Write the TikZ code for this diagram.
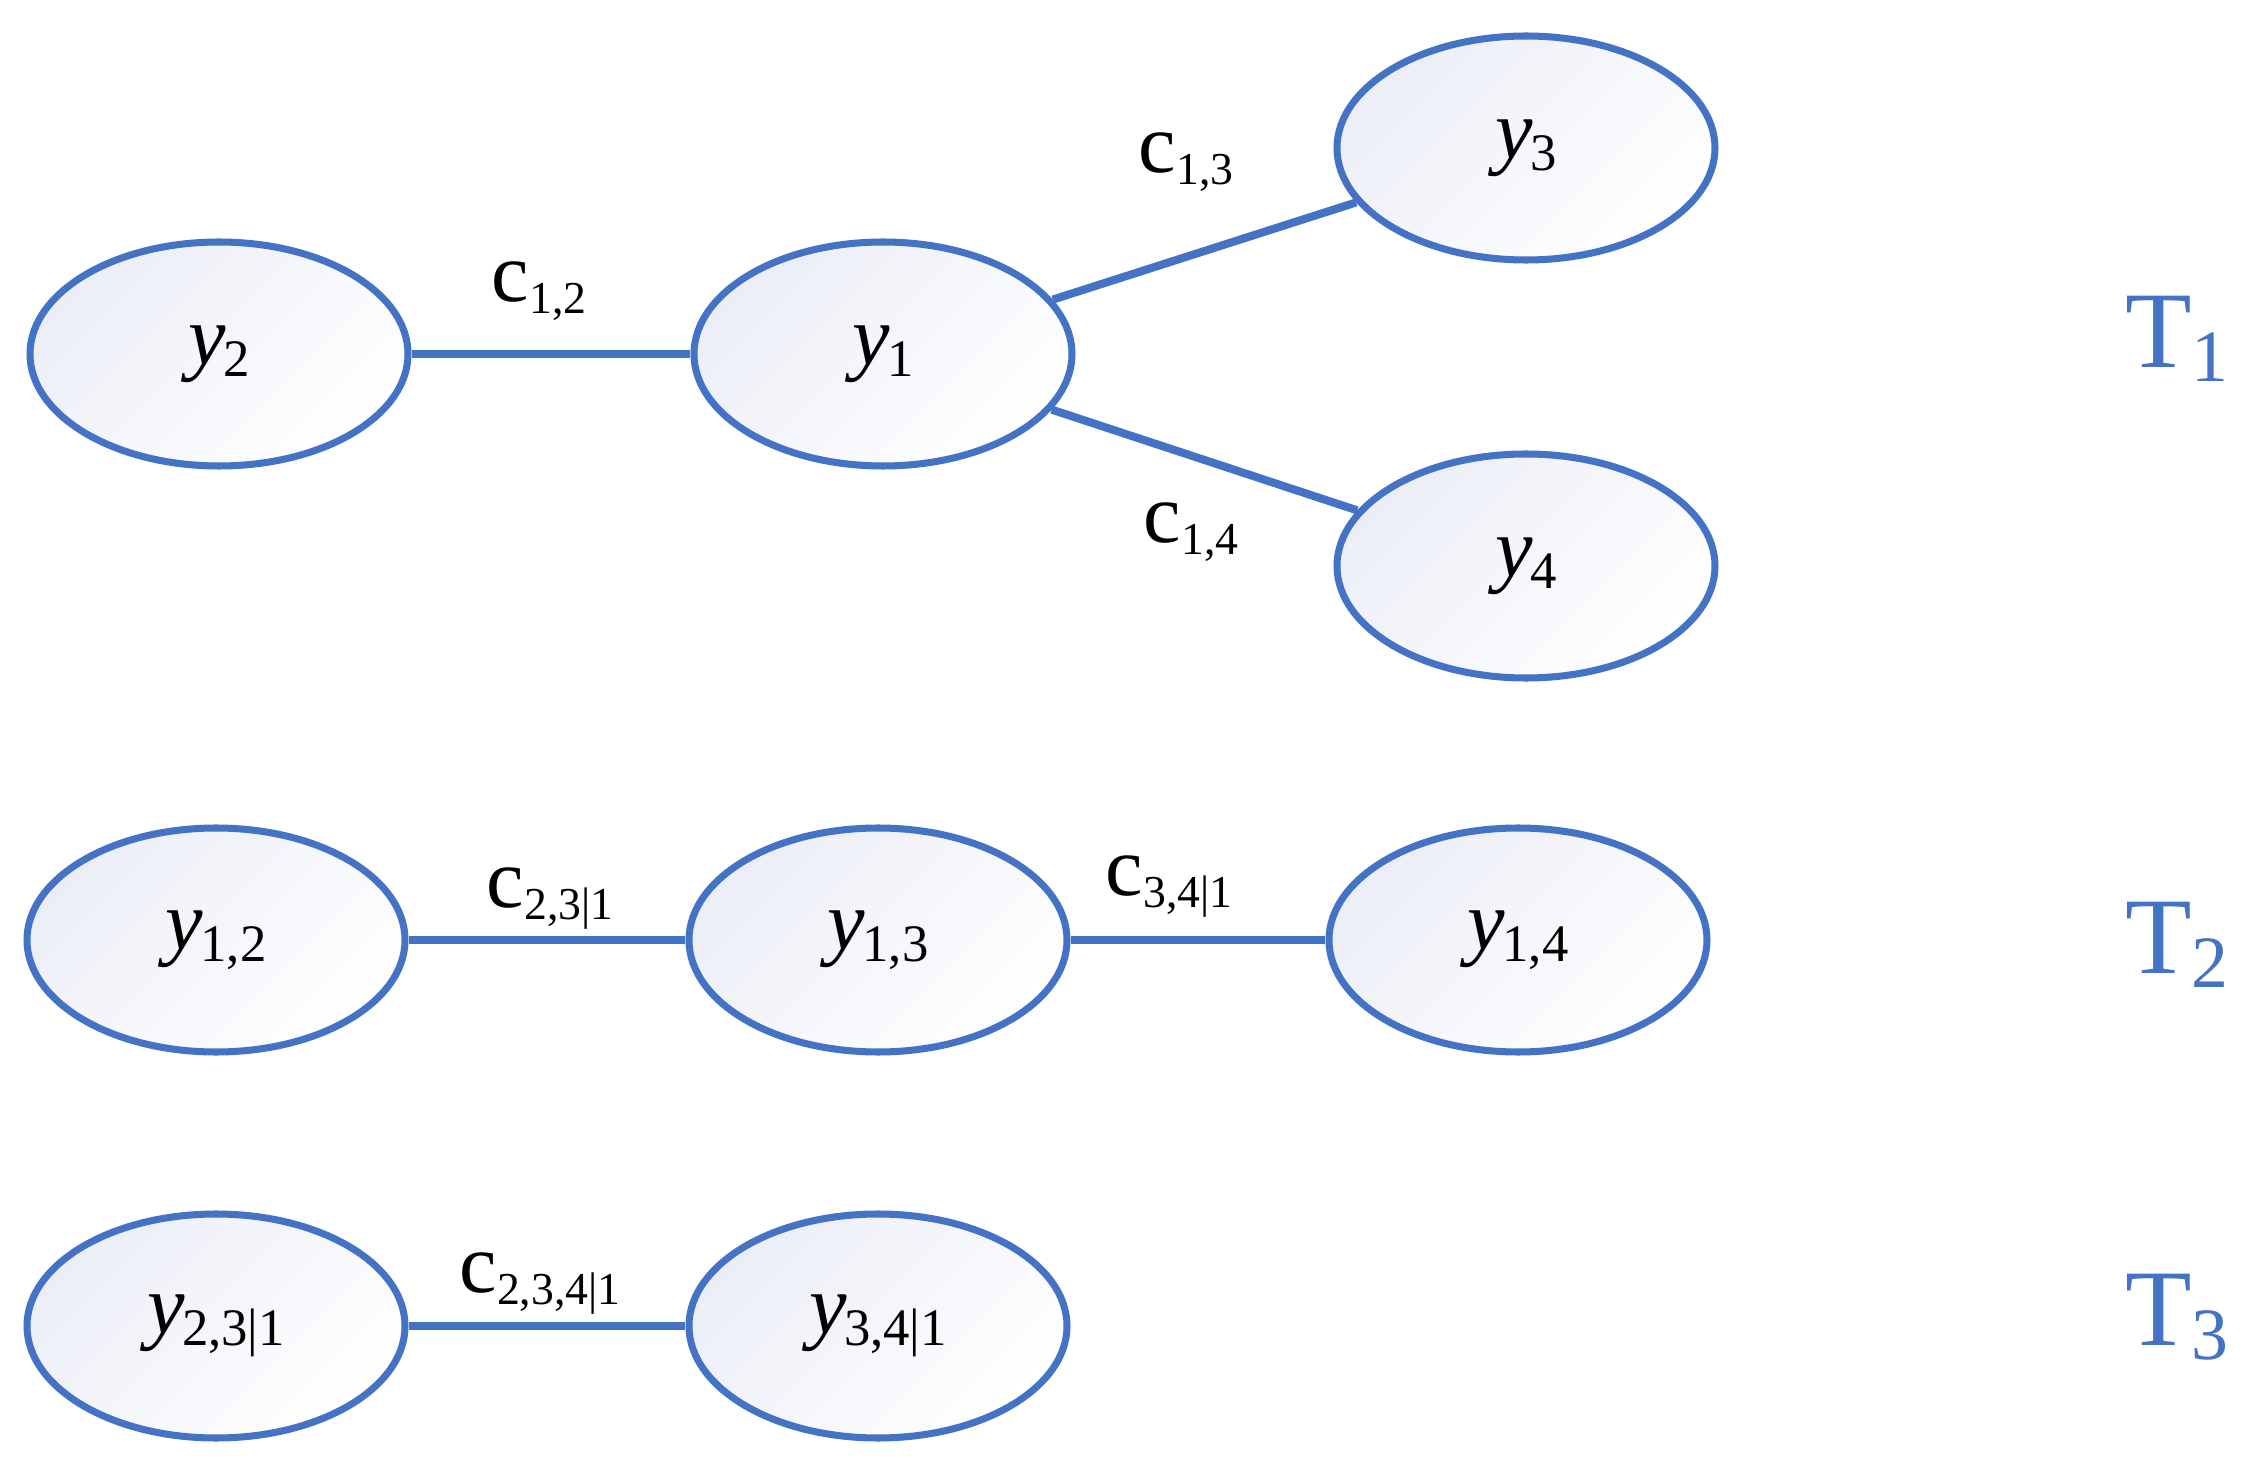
\documentclass[tikz,border=0pt]{standalone}
\usepackage{fontspec}
\setmainfont{Liberation Serif}
\usetikzlibrary{shapes.geometric}

\definecolor{edgeblue}{HTML}{4472C4}
\definecolor{shadeblue}{HTML}{ECEEF7}

% variable, copula and tree labels
\newcommand{\yvar}[1]{\textit{y}\kern-0.03em\raisebox{-3.4pt}{\fontsize{15}{15}\selectfont #1}}
\newcommand{\cpar}[1]{c\raisebox{-3.4pt}{\fontsize{13}{13}\selectfont #1}}
\newcommand{\treename}[1]{T\raisebox{-4pt}{\fontsize{21}{21}\selectfont #1}}

\tikzset{
    var/.style={ellipse, draw=edgeblue, line width=2pt, minimum width=3.78cm,
        minimum height=2.24cm, inner sep=0pt, top color=shadeblue,
        bottom color=white, shading angle=45, font=\fontsize{24}{28}\selectfont},
    link/.style={draw=edgeblue, line width=2.3pt},
    cop/.style={font=\fontsize{24}{28}\selectfont},
    treelab/.style={text=edgeblue, font=\fontsize{31}{36}\selectfont}
}

\begin{document}
\begin{tikzpicture}
    \useasboundingbox (0,0) rectangle (22.56,14.71);

    % Tree 1
    \node[var] (y2) at (2.19,11.17) {\yvar{2}};
    \node[var] (y1) at (8.83,11.17) {\yvar{1}};
    \node[var] (y3) at (15.26,13.23) {\yvar{3}};
    \node[var] (y4) at (15.26,9.05) {\yvar{4}};

    \draw[link] (y2) -- (y1);
    \draw[link] (y1) -- (y3);
    \draw[link] (y1) -- (y4);

    \node[cop] (c12) at (5.39,11.80) {\cpar{1,2}};
    \node[cop] (c13) at (11.86,13.09) {\cpar{1,3}};
    \node[cop] (c14) at (11.91,9.39) {\cpar{1,4}};

    % Tree 2
    \node[var] (y12) at (2.16,5.31) {\yvar{1,2}};
    \node[var] (y13) at (8.78,5.31) {\yvar{1,3}};
    \node[var] (y14) at (15.18,5.31) {\yvar{1,4}};

    \draw[link] (y12) -- (y13);
    \draw[link] (y13) -- (y14);

    \node[cop] (c231) at (5.50,5.72) {\cpar{2,3|1}};
    \node[cop] (c341) at (11.69,5.84) {\cpar{3,4|1}};

    % Tree 3
    \node[var] (y231) at (2.16,1.45) {\yvar{2,3|1}};
    \node[var] (y341) at (8.78,1.45) {\yvar{3,4|1}};

    \draw[link] (y231) -- (y341);

    \node[cop] (c2341) at (5.40,1.87) {\cpar{2,3,4|1}};

    % Tree names
    \foreach \k/\ypos in {1/11.32, 2/5.26, 3/1.54} {
        \node[treelab] (T\k) at (21.77,\ypos) {\treename{\k}};
    }
\end{tikzpicture}
\end{document}
